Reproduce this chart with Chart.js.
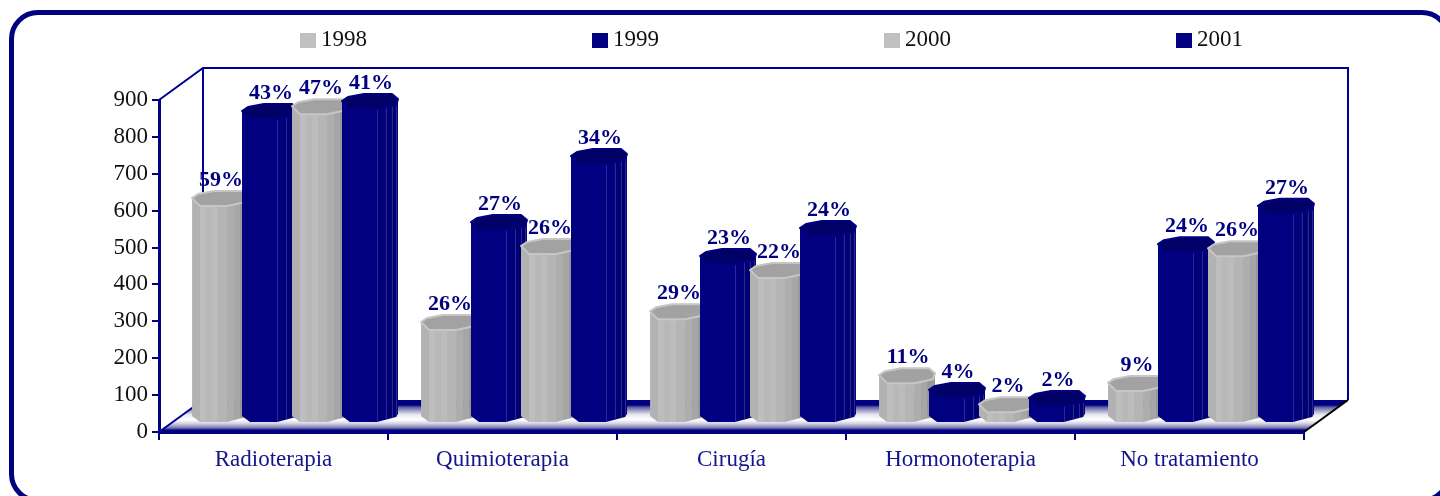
<!DOCTYPE html>
<html>
<head>
<meta charset="utf-8">
<script src="https://cdn.jsdelivr.net/npm/chart.js@4"></script>
<style>
html, body { margin: 0; padding: 0; background: #fff; overflow: hidden; }
#wrap { position: relative; width: 1440px; height: 496px; overflow: hidden; }
#frame { position: absolute; left: 9px; top: 10px; width: 1432px; height: 483px; border: 5px solid #000080; border-radius: 29px; }
canvas { position: absolute; left: 0; top: 0; }
</style>
</head>
<body>
<div id="wrap">
<div id="frame"></div>
<canvas id="myChart" width="1440" height="496"></canvas>
</div>
<script>
const categories = ['Radioterapia', 'Quimioterapia', 'Cirugía', 'Hormonoterapia', 'No tratamiento'];
const years = ['1998', '1999', '2000', '2001'];
const yTicks = [0, 100, 200, 300, 400, 500, 600, 700, 800, 900];

const v1998 = [588, 252, 281, 108, 87];
const v1999 = [824, 523, 431, 68, 463];
const v2000 = [837, 458, 393, 29, 452];
const v2001 = [851, 702, 507, 46, 567];

const p1998 = ['59%', '26%', '29%', '11%', '9%'];
const p1999 = ['43%', '27%', '23%', '4%', '24%'];
const p2000 = ['47%', '26%', '22%', '2%', '26%'];
const p2001 = ['41%', '34%', '24%', '2%', '27%'];

const GREY = '#c0c0c0';
const NAVY = '#000080';
const SERIF = '"Liberation Serif", serif';

// bars sit in the middle of the floor, not on its front edge
const SHIFT_X = 15, SHIFT_Y = -9;
const DEPTH_X = 44, DEPTH_Y = -32;

const topPts = [[-8,-8],[0,0],[27,0],[46,-4],[48,-10],[42,-15],[14,-15],[-2,-12]];
const greyBands = [[-8,'#b2b2b2'],[0,'#bebebe'],[6,'#b8b8b8'],[12,'#bcbcbc'],[18,'#b5b5b5'],[27,'#adadad'],[34,'#a6a6a6'],[40,'#989898']];
const navyBands = [[-8,'#000080'],[27,'#00007a'],[36,'#000072'],[42,'#00006a']];
const navyLines = [27, 36, 42, 46];

function drawPrism(ctx, el, grey) {
    const l = el.x - el.width / 2;
    const y = el.y, b = el.base;
    ctx.save();
    ctx.beginPath();
    ctx.moveTo(l - 8, y - 8);
    ctx.lineTo(l, y);
    ctx.lineTo(l + 27, y);
    ctx.lineTo(l + 46, y - 4);
    ctx.lineTo(l + 48, y - 10);
    ctx.lineTo(l + 48, b - 8);
    ctx.lineTo(l + 46, b - 5);
    ctx.lineTo(l + 27, b);
    ctx.lineTo(l, b);
    ctx.lineTo(l - 8, b - 6);
    ctx.closePath();
    ctx.clip();
    const bands = grey ? greyBands : navyBands;
    bands.forEach((band, i) => {
        const end = i + 1 < bands.length ? bands[i + 1][0] : 48;
        ctx.fillStyle = band[1];
        ctx.fillRect(l + band[0], y - 20, end - band[0], b - y + 20);
    });
    if (!grey) {
        ctx.strokeStyle = '#2a2a9c';
        ctx.lineWidth = 1;
        navyLines.forEach(x => {
            ctx.beginPath();
            ctx.moveTo(l + x + 0.5, y - 20);
            ctx.lineTo(l + x + 0.5, b);
            ctx.stroke();
        });
    }
    ctx.restore();

    ctx.beginPath();
    topPts.forEach((p, i) => {
        if (i == 0) ctx.moveTo(l + p[0], y + p[1]);
        else ctx.lineTo(l + p[0], y + p[1]);
    });
    ctx.closePath();
    ctx.fillStyle = grey ? '#a2a2a2' : '#000066';
    ctx.fill();
    ctx.strokeStyle = grey ? '#c6c6c6' : NAVY;
    ctx.lineWidth = 2;
    ctx.lineJoin = 'round';
    ctx.stroke();
}

const box3d = {
    id: 'box3d',
    beforeDatasetsDraw(chart) {
        const ctx = chart.ctx, a = chart.chartArea;
        ctx.save();
        // floor
        const g = ctx.createLinearGradient(0, a.bottom + DEPTH_Y, 0, a.bottom);
        g.addColorStop(0, NAVY);
        g.addColorStop(0.16, NAVY);
        g.addColorStop(0.22, '#5a5aa0');
        g.addColorStop(0.34, '#a8a8cc');
        g.addColorStop(0.46, '#e8e8f2');
        g.addColorStop(0.62, '#ffffff');
        g.addColorStop(0.74, '#d0d0e4');
        g.addColorStop(0.86, '#8080b4');
        g.addColorStop(0.95, NAVY);
        ctx.fillStyle = g;
        ctx.beginPath();
        ctx.moveTo(a.left, a.bottom);
        ctx.lineTo(a.left + DEPTH_X, a.bottom + DEPTH_Y);
        ctx.lineTo(a.right + DEPTH_X, a.bottom + DEPTH_Y);
        ctx.lineTo(a.right, a.bottom);
        ctx.closePath();
        ctx.fill();
        // back wall
        ctx.strokeStyle = '#000090';
        ctx.lineWidth = 2;
        ctx.beginPath();
        ctx.moveTo(a.left, a.top);
        ctx.lineTo(a.left + DEPTH_X, a.top + DEPTH_Y);
        ctx.lineTo(a.right + DEPTH_X, a.top + DEPTH_Y);
        ctx.lineTo(a.right + DEPTH_X, a.bottom + DEPTH_Y);
        ctx.moveTo(a.left + DEPTH_X, a.top + DEPTH_Y);
        ctx.lineTo(a.left + DEPTH_X, a.bottom + DEPTH_Y);
        ctx.moveTo(a.left, a.bottom);
        ctx.lineTo(a.left + DEPTH_X, a.bottom + DEPTH_Y);
        ctx.stroke();
        ctx.strokeStyle = '#000';
        ctx.beginPath();
        ctx.moveTo(a.right, a.bottom);
        ctx.lineTo(a.right + DEPTH_X, a.bottom + DEPTH_Y);
        ctx.stroke();
        ctx.restore();
    },
    // the painter order has to be left to right, so the plugin draws the elements itself
    beforeDatasetDraw() {
        return false;
    },
    afterDatasetsDraw(chart) {
        const ctx = chart.ctx;
        ctx.save();
        ctx.translate(SHIFT_X, SHIFT_Y);
        chart.data.datasets.forEach((ds, i) => {
            chart.getDatasetMeta(i).data.forEach(el => {
                el.draw(ctx);
                drawPrism(ctx, el, ds.backgroundColor == GREY);
            });
        });
        ctx.font = 'bold 22px ' + SERIF;
        ctx.fillStyle = NAVY;
        ctx.textAlign = 'center';
        ctx.textBaseline = 'middle';
        chart.data.datasets.forEach((ds, i) => {
            chart.getDatasetMeta(i).data.forEach((el, j) => {
                ctx.fillText(ds.percent[j], el.x + 7.5, el.y - 26);
            });
        });
        ctx.restore();
    },
    afterDraw(chart) {
        // legend spread over the top of the chart
        const ctx = chart.ctx;
        ctx.save();
        ctx.font = '23px ' + SERIF;
        ctx.textBaseline = 'middle';
        chart.data.datasets.forEach((ds, i) => {
            const x = 300 + i * 292;
            ctx.fillStyle = ds.backgroundColor;
            ctx.fillRect(x, 33, 16, 15);
            ctx.fillStyle = '#111';
            ctx.fillText(ds.label, x + 21, 40);
        });
        ctx.restore();
    }
};

const ctx_1 = document.getElementById('myChart').getContext('2d');
const myChart = new Chart(ctx_1, {
    type: 'bar',
    plugins: [box3d],
    data: {
        labels: categories,
        datasets: [
            { label: years[0], data: v1998, percent: p1998, backgroundColor: GREY },
            { label: years[1], data: v1999, percent: p1999, backgroundColor: NAVY },
            { label: years[2], data: v2000, percent: p2000, backgroundColor: GREY },
            { label: years[3], data: v2001, percent: p2001, backgroundColor: NAVY }
        ]
    },
    options: {
        responsive: false,
        animation: false,
        categoryPercentage: 0.873,
        barPercentage: 0.54,
        layout: { padding: { left: 99, right: 136, top: 100, bottom: 0 } },
        plugins: { legend: { display: false }, tooltip: { enabled: false } },
        scales: {
            x: {
                afterFit(s) { s.height = 64; },
                grid: { drawOnChartArea: false, color: NAVY, tickLength: 8, lineWidth: 2 },
                border: { color: NAVY, width: 3 },
                ticks: { color: '#14148c', padding: 6, maxRotation: 0, font: { family: SERIF, size: 23 } }
            },
            y: {
                min: 0,
                max: 900,
                afterFit(s) { s.width = 60; },
                afterBuildTicks(s) { s.ticks = yTicks.map(v => ({ value: v })); },
                grid: { drawOnChartArea: false, color: NAVY, tickLength: 7, lineWidth: 2 },
                border: { color: NAVY, width: 3 },
                ticks: { color: '#111', padding: 4, font: { family: SERIF, size: 23 } }
            }
        }
    }
});
</script>
</body>
</html>
